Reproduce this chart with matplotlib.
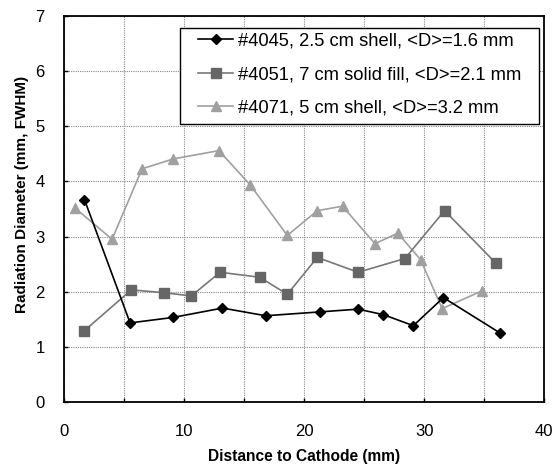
import matplotlib
matplotlib.use("Agg")
import matplotlib.pyplot as plt
from matplotlib.patches import Rectangle

plt.rcParams['font.family'] = ['Liberation Sans', 'DejaVu Sans']

# Shot #4045: 2.5 cm shell
x_4045 = [1.7, 5.5, 9.1, 13.2, 16.8, 21.3, 24.5, 26.6, 29.1, 31.6, 36.3]
d_4045 = [3.67, 1.43, 1.53, 1.70, 1.56, 1.63, 1.68, 1.58, 1.38, 1.89, 1.25]

# Shot #4051: 7 cm solid fill
x_4051 = [1.7, 5.6, 8.3, 10.6, 13.0, 16.3, 18.6, 21.1, 24.5, 28.4, 31.7, 36.0]
d_4051 = [1.29, 2.03, 1.98, 1.92, 2.35, 2.26, 1.95, 2.62, 2.35, 2.60, 3.47, 2.51]

# Shot #4071: 5 cm shell
x_4071 = [0.9, 4.0, 6.5, 9.1, 12.9, 15.5, 18.6, 21.1, 23.2, 25.9, 27.8, 29.7, 31.5, 34.8]
d_4071 = [3.52, 2.95, 4.23, 4.41, 4.56, 3.94, 3.02, 3.47, 3.55, 2.87, 3.06, 2.58, 1.69, 2.01]

labels = ["#4045, 2.5 cm shell, <D>=1.6 mm",
          "#4051, 7 cm solid fill, <D>=2.1 mm",
          "#4071, 5 cm shell, <D>=3.2 mm"]

fig = plt.figure(figsize=(5.57, 4.67), dpi=100)
ax = fig.add_axes([0.115, 0.140, 0.862, 0.825])

ax.plot(x_4045, d_4045, color='black', lw=1.2, marker='D', ms=5.5,
        label=labels[0], zorder=5)
ax.plot(x_4051, d_4051, color='#777777', lw=1.2, marker='s', ms=7,
        mfc='#666666', mec='#666666', label=labels[1], zorder=4)
ax.plot(x_4071, d_4071, color='#a0a0a0', lw=1.2, marker='^', ms=7.5,
        mfc='#a0a0a0', mec='#a0a0a0', label=labels[2], zorder=3)

ax.set_xlim(0, 40)
ax.set_ylim(0, 7)
ax.set_xticks([0, 10, 20, 30, 40])
ax.set_xticks([5, 15, 25, 35], minor=True)
ax.set_yticks(range(0, 8))

ax.grid(True, which='both', axis='x', color='#888888', ls=(0, (1, 1)), lw=0.8)
ax.grid(True, which='major', axis='y', color='#888888', ls=(0, (1, 1)), lw=0.8)
ax.set_axisbelow(True)

ax.tick_params(axis='both', which='both', direction='in', length=3, width=1,
               labelsize=12, color='black')
ax.tick_params(axis='x', pad=16)
ax.tick_params(axis='y', pad=14)
for s in ax.spines.values():
    s.set_linewidth(1.3)

ax.set_xlabel("Distance to Cathode (mm)", fontsize=11.2, fontweight='bold')
ax.set_ylabel("Radiation Diameter (mm, FWHM)", fontsize=11, fontweight='bold')
ax.xaxis.set_label_coords(0.5, -0.122)
ax.yaxis.set_label_coords(-0.074, 0.538)

# Legend: boxed panel in the upper right
frame = Rectangle((0.2417, 0.7209), 0.9896 - 0.2417, 0.9709 - 0.7209,
                  transform=ax.transAxes, facecolor='white', edgecolor='black',
                  lw=1.0, zorder=6)
ax.add_patch(frame)
leg = ax.legend(loc='upper left', bbox_to_anchor=(0.2792, 0.957), fontsize=13.2,
                frameon=False, handlelength=1.9, borderpad=0, labelspacing=0.88,
                handletextpad=0.3, borderaxespad=0)
leg.set_zorder(7)

fig.savefig("out.png", dpi=100)
